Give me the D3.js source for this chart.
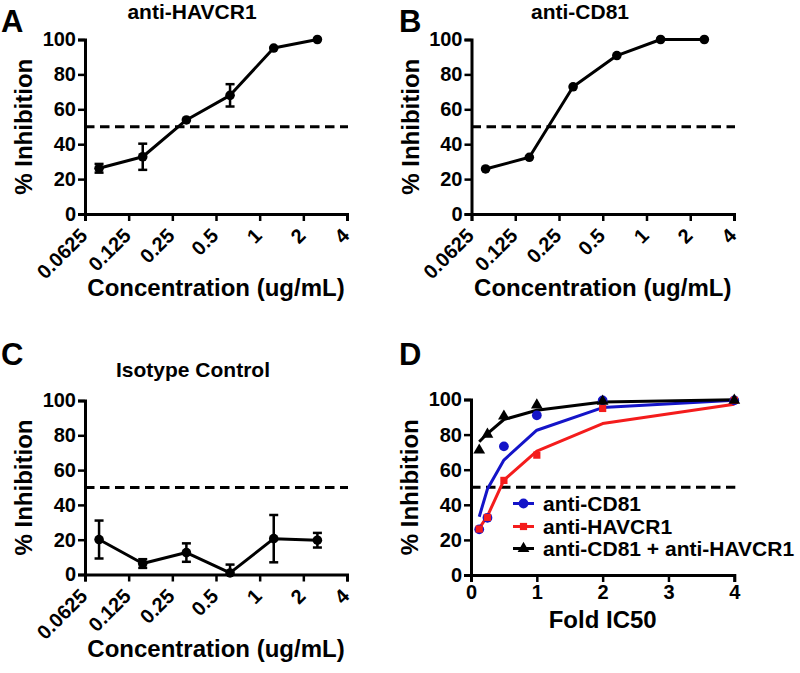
<!DOCTYPE html>
<html>
<head>
<meta charset="utf-8">
<script src="https://cdn.jsdelivr.net/npm/d3@7"></script>
<style>
  html, body { margin: 0; padding: 0; background: #fff; }
  svg { display: block; }
  text { font-family: "Liberation Sans", Arial, Helvetica, sans-serif; font-weight: bold; fill: #000; }
</style>
</head>
<body>
<svg id="chart" width="800" height="673"></svg>
<script>
// ---------- DATA ----------
const concentrations = [0.078125, 0.15625, 0.3125, 0.625, 1.25, 2.5];
const concTickValues = [0.0625, 0.125, 0.25, 0.5, 1, 2, 4];
const concTickLabels = ["0.0625", "0.125", "0.25", "0.5", "1", "2", "4"];
const inhibitionTicks = [0, 20, 40, 60, 80, 100];

const havcr1Mean = [26.2, 32.8, 53.9, 68.0, 95.1, 100];
const havcr1Err  = [2.5, 7.5, 0, 6.4, 0, 0];

const cd81Mean = [25.8, 32.5, 72.9, 90.8, 100, 100];
const cd81Err  = [0, 0, 0, 0, 0, 0];

const isotypeMean = [20.1, 6.3, 12.6, 0.9, 20.6, 19.7];
const isotypeErr  = [10.9, 2.5, 5.3, 4.8, 13.6, 4.2];

const foldIC50 = [0.125, 0.25, 0.5, 1, 2, 4];
const foldTicks = [0, 1, 2, 3, 4];
const dCD81Points   = [26.0, 32.6, 73.3, 91.0, 99.5, 99.5];
const dHAVCR1Points = [26.2, 32.8, 53.9, 68.3, 94.9, 99.5];
const dComboPoints  = [71.1, 80.2, 90.5, 96.8, 99.0, 99.5];
const dCD81Fit   = [33.2, 49.0, 65.5, 82.5, 95.4, 99.6];
const dHAVCR1Fit = [26.6, 33.6, 54.0, 70.6, 86.3, 97.3];
const dComboFit  = [75.9, 80.6, 88.6, 93.9, 98.6, 99.8];

const legendLabels = ["anti-CD81", "anti-HAVCR1", "anti-CD81 + anti-HAVCR1"];
const threshold = 50;

// ---------- DRAWING ----------
const svg = d3.select("#chart");
const BLUE = "#1414c8", RED = "#f41c1c";
const FONT = '"Liberation Sans", Arial, sans-serif';

function styleTicks(sel) {
  sel.attr("font-size", 20).attr("fill", "#000")
    .style("font-family", FONT).style("font-weight", "bold");
}

function yAxisFor(g, y, x0) {
  const ax = d3.axisLeft(y).tickValues(inhibitionTicks).tickSize(7).tickPadding(2);
  const a = g.append("g").attr("transform", `translate(${x0},0)`).call(ax);
  a.select(".domain").attr("stroke", "#000").attr("stroke-width", 3);
  a.selectAll(".tick line").attr("stroke", "#000").attr("stroke-width", 2.5);
  styleTicks(a.selectAll(".tick text"));
  return a;
}

function concPanel(opt) {
  const g = svg.append("g");
  const x = d3.scaleLog().base(2).domain([0.0625, 4]).range([opt.x0, opt.x1]);
  const y = d3.scaleLinear().domain([0, 100]).range([opt.yb, opt.yt]);

  g.append("line")
    .attr("x1", x(0.0625)).attr("x2", x(4) + 1)
    .attr("y1", y(threshold)).attr("y2", y(threshold))
    .attr("stroke", "#000").attr("stroke-width", 3).attr("stroke-dasharray", "9.5,5.5");

  yAxisFor(g, y, opt.x0);
  const xa = d3.axisBottom(x).tickValues(concTickValues).tickSize(7).tickFormat((d, i) => concTickLabels[i]);
  const xg = g.append("g").attr("transform", `translate(0,${opt.yb})`).call(xa);
  xg.select(".domain").attr("stroke", "#000").attr("stroke-width", 3);
  xg.selectAll(".tick line").attr("stroke", "#000").attr("stroke-width", 2.5);
  styleTicks(xg.selectAll(".tick text"));
  xg.selectAll(".tick text")
    .attr("text-anchor", "end").attr("y", 0).attr("dy", 0)
    .attr("transform", "translate(3,23) rotate(-45)");

  const eb = g.append("g");
  concentrations.forEach((c, i) => {
    const e = opt.err[i];
    if (!e) return;
    const lo = Math.max(0, opt.mean[i] - e), hi = opt.mean[i] + e;
    const cx = x(c);
    eb.append("line").attr("x1", cx).attr("x2", cx).attr("y1", y(lo)).attr("y2", y(hi))
      .attr("stroke", "#000").attr("stroke-width", 2.5);
    [hi, opt.mean[i] - e >= 0 ? lo : null].forEach(v => {
      if (v === null) return;
      eb.append("line").attr("x1", cx - 4.5).attr("x2", cx + 4.5).attr("y1", y(v)).attr("y2", y(v))
        .attr("stroke", "#000").attr("stroke-width", 2.5);
    });
  });

  const pts = concentrations.map((c, i) => [c, opt.mean[i]]);
  g.append("path").datum(pts)
    .attr("d", d3.line().x(d => x(d[0])).y(d => y(d[1])))
    .attr("fill", "none").attr("stroke", "#000").attr("stroke-width", 3).attr("stroke-linejoin", "round");
  g.selectAll(null).data(pts).enter().append("circle")
    .attr("cx", d => x(d[0])).attr("cy", d => y(d[1])).attr("r", 4.8).attr("fill", "#000");

  g.append("text").attr("x", opt.titleX).attr("y", opt.titleY).attr("text-anchor", "middle")
    .attr("font-size", 21).text(opt.title);
  g.append("text").attr("x", (opt.x0 + opt.x1) / 2).attr("y", opt.xTitleY).attr("text-anchor", "middle")
    .attr("font-size", 24).text("Concentration (ug/mL)");
  g.append("text").attr("transform", `translate(${opt.x0 - 53},${(opt.yt + opt.yb) / 2}) rotate(-90)`)
    .attr("text-anchor", "middle").attr("font-size", 24).text("% Inhibition");
  g.append("text").attr("x", opt.letterX).attr("y", opt.letterY).attr("font-size", 31).text(opt.letter);
}

concPanel({ x0: 85, x1: 347, yt: 39.5, yb: 214, mean: havcr1Mean, err: havcr1Err,
  title: "anti-HAVCR1", titleX: 192, titleY: 19, xTitleY: 296, letter: "A", letterX: 1, letterY: 32 });
concPanel({ x0: 471.5, x1: 734, yt: 39.5, yb: 214, mean: cd81Mean, err: cd81Err,
  title: "anti-CD81", titleX: 580, titleY: 19, xTitleY: 296, letter: "B", letterX: 399, letterY: 32 });
concPanel({ x0: 85, x1: 347, yt: 400.5, yb: 574.5, mean: isotypeMean, err: isotypeErr,
  title: "Isotype Control", titleX: 193, titleY: 377, xTitleY: 657, letter: "C", letterX: 1, letterY: 365 });

// ---------- Panel D ----------
(function () {
  const g = svg.append("g");
  const x0 = 471, x1 = 734.3, yt = 399.5, yb = 575;
  const x = d3.scaleLinear().domain([0, 4]).range([x0, x1]);
  const y = d3.scaleLinear().domain([0, 100]).range([yb, yt]);

  g.append("line").attr("x1", x(0)).attr("x2", x(4) + 1)
    .attr("y1", y(threshold)).attr("y2", y(threshold))
    .attr("stroke", "#000").attr("stroke-width", 3).attr("stroke-dasharray", "9.5,5.5");

  yAxisFor(g, y, x0);
  const xg = g.append("g").attr("transform", `translate(0,${yb})`)
    .call(d3.axisBottom(x).tickValues(foldTicks).tickFormat(d3.format("d")).tickSize(7).tickPadding(3));
  xg.select(".domain").attr("stroke", "#000").attr("stroke-width", 3);
  xg.selectAll(".tick line").attr("stroke", "#000").attr("stroke-width", 2.5);
  styleTicks(xg.selectAll(".tick text"));

  const line = d3.line().x(d => x(d[0])).y(d => y(d[1]));
  const series = [
    { fit: dCD81Fit, pts: dCD81Points, color: BLUE, shape: "circle" },
    { fit: dHAVCR1Fit, pts: dHAVCR1Points, color: RED, shape: "square" },
    { fit: dComboFit, pts: dComboPoints, color: "#000", shape: "triangle" }
  ];
  const sym = { circle: d3.symbolCircle, square: d3.symbolSquare, triangle: d3.symbolTriangle };
  const symSize = { circle: 75, square: 52, triangle: 60 };

  series.forEach(s => {
    g.append("path").datum(foldIC50.map((f, i) => [f, s.fit[i]]))
      .attr("d", line).attr("fill", "none").attr("stroke", s.color).attr("stroke-width", 3)
      .attr("stroke-linejoin", "round");
  });
  series.forEach(s => {
    g.selectAll(null).data(foldIC50.map((f, i) => [f, s.pts[i]])).enter().append("path")
      .attr("transform", d => `translate(${x(d[0])},${y(d[1])})`)
      .attr("d", d3.symbol().type(sym[s.shape]).size(symSize[s.shape]))
      .attr("fill", s.color);
  });

  const lg = g.append("g");
  const rowY = [503.5, 526.5, 548.5];
  series.forEach((s, i) => {
    lg.append("line").attr("x1", 513).attr("x2", 534).attr("y1", rowY[i]).attr("y2", rowY[i])
      .attr("stroke", s.color).attr("stroke-width", 3);
    lg.append("path").attr("transform", `translate(523.5,${rowY[i]})`)
      .attr("d", d3.symbol().type(sym[s.shape]).size(symSize[s.shape])).attr("fill", s.color);
    lg.append("text").attr("x", 543).attr("y", rowY[i] + 7.5).attr("font-size", 21).text(legendLabels[i]);
  });

  g.append("text").attr("x", (x0 + x1) / 2).attr("y", 628).attr("text-anchor", "middle")
    .attr("font-size", 24).text("Fold IC50");
  g.append("text").attr("transform", `translate(${x0 - 53},${(yt + yb) / 2}) rotate(-90)`)
    .attr("text-anchor", "middle").attr("font-size", 24).text("% Inhibition");
  g.append("text").attr("x", 399).attr("y", 365).attr("font-size", 31).text("D");
})();
</script>
</body>
</html>
